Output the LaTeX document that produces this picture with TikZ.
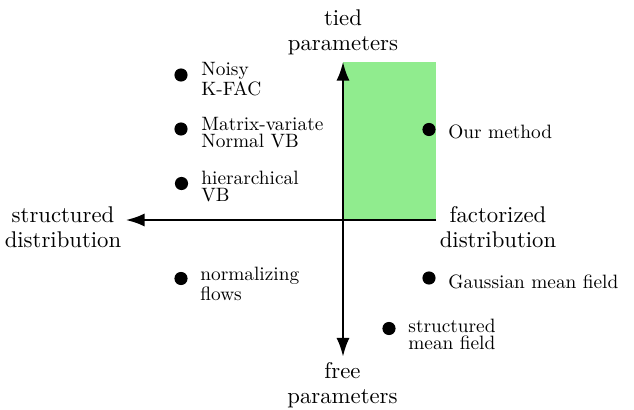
\documentclass[tikz,border=0pt]{standalone}
\usetikzlibrary{arrows.meta}
\definecolor{quadgreen}{HTML}{90EC8E}
\tikzset{
  axis/.style={line width=1.25pt, black},
  tipstyle/.style={-{Latex[length=8.4pt,width=5.8pt]}},
  dot/.style={circle, fill=black, inner sep=0pt, minimum size=5.8pt},
  lbl/.style={inner sep=0pt, align=left, font=\fontsize{10}{8.9}\selectfont, scale=0.85, transform shape},
  axlbl/.style={inner sep=0pt, align=center, font=\fontsize{10}{11}\selectfont, anchor=north},
}
\begin{document}
\begin{tikzpicture}[x=0.44pt, y=-0.44pt]
\useasboundingbox (0,0) rectangle (634,409);
% quadrant
\fill[quadgreen] (343,62.3) rectangle (436,220);
% axis points
\coordinate (o) at (343,220);
\coordinate (top) at (343,61.5);
\coordinate (bot) at (343,357);
\coordinate (left) at (125.5,220);
\coordinate (right) at (436,220);
\draw[axis, tipstyle] (o) -- (top);
\draw[axis, tipstyle] (o) -- (bot);
\draw[axis, tipstyle] (right) -- (left);
% axis labels
\node[axlbl] (tied) at (343,9) {tied\\parameters};
\node[axlbl] (free) at (342.5,362.5) {free\\parameters};
\node[axlbl] (struct) at (63,206.5) {structured\\distribution};
\node[axlbl] (fact) at (498,206.5) {factorized\\distribution};
% points
\node[dot] (p1) at (181,75) {};
\node[dot] (p2) at (181,129) {};
\node[dot] (p3) at (181.5,183.5) {};
\node[dot] (p4) at (181,278.5) {};
\node[dot] (p5) at (429,129.5) {};
\node[dot] (p6) at (429,278) {};
\node[dot] (p7) at (389,328.5) {};
% labels
\node[lbl, anchor=north west] (l1) at (201,62) {Noisy\\K-FAC};
\node[lbl, anchor=north west] (l2) at (201,117) {Matrix-variate\\Normal VB};
\node[lbl, anchor=north west] (l3) at (201,170.5) {hierarchical\\VB};
\node[lbl, anchor=north west] (l4) at (200,267) {normalizing\\flows};
\node[lbl, anchor=north west] (l7) at (408,318.5) {structured\\mean field};
\node[lbl, anchor=west] (l5) at (448,131.5) {Our method};
\node[lbl, anchor=west] (l6) at (448,281.5) {Gaussian mean field};
\end{tikzpicture}
\end{document}
